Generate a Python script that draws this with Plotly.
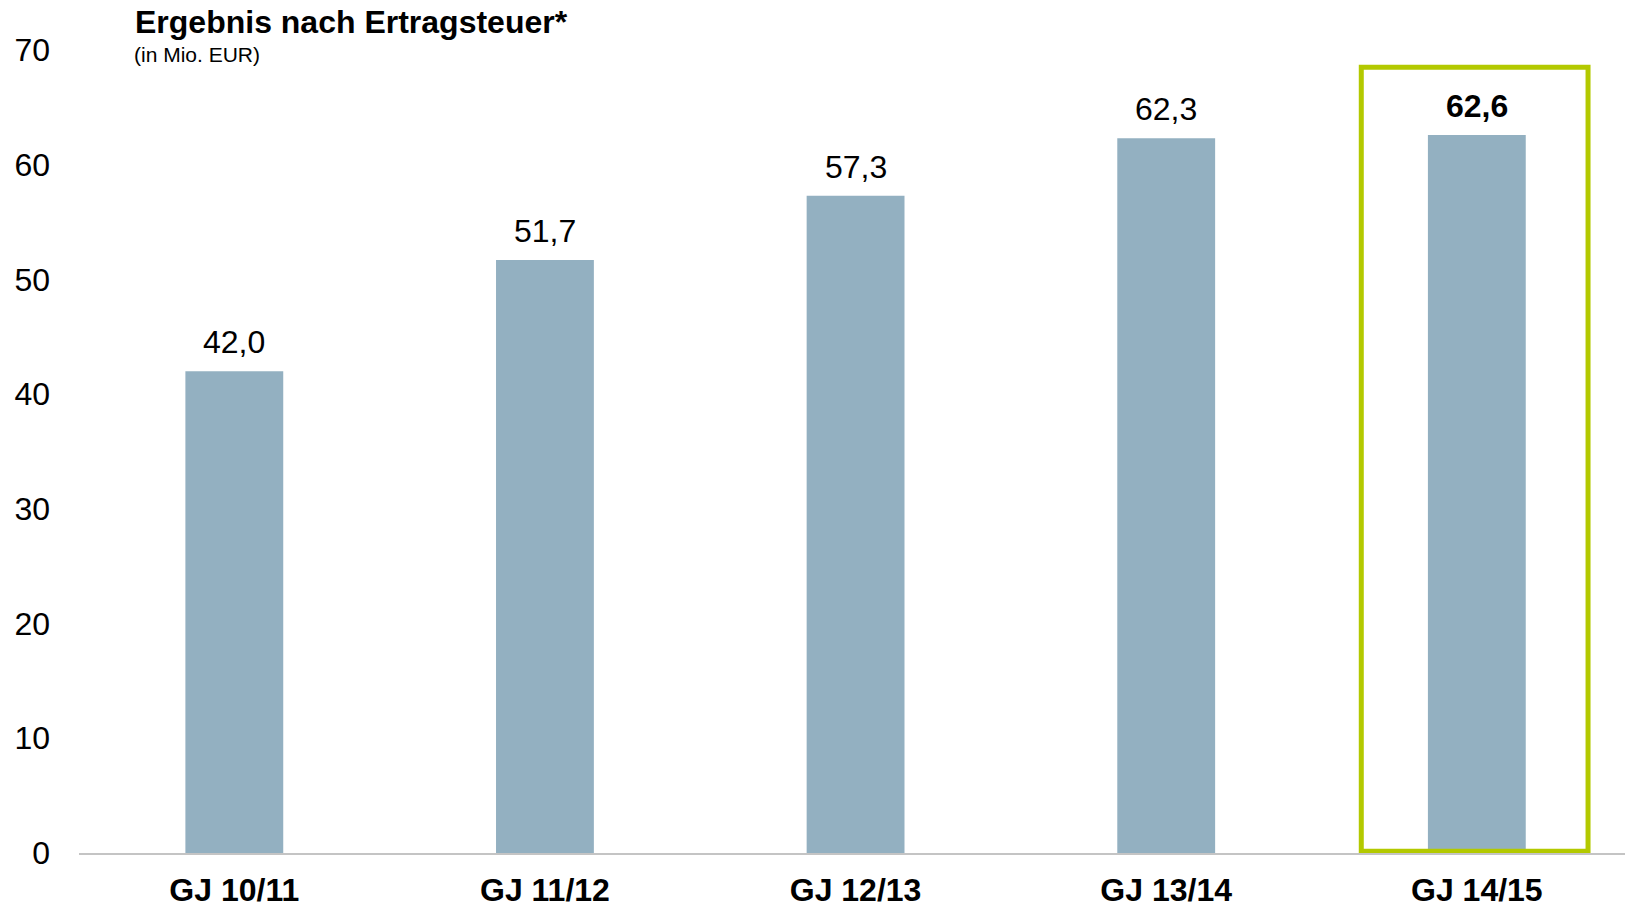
import plotly.graph_objects as go

categories = ["GJ 10/11", "GJ 11/12", "GJ 12/13", "GJ 13/14", "GJ 14/15"]
values = [42.0, 51.7, 57.3, 62.3, 62.6]
y_ticks = [0, 10, 20, 30, 40, 50, 60, 70]
highlight_index = 4

FONT = "Liberation Sans, Arial, sans-serif"
BAR_COLOR = "#93B0C1"
GREEN = "#B3C900"

x_idx = list(range(len(categories)))

fig = go.Figure()
fig.add_trace(go.Bar(
    x=x_idx, y=values, width=0.315,
    marker=dict(color=BAR_COLOR, line=dict(width=0)),
    hoverinfo="skip",
))

# value labels
for i, v in enumerate(values):
    txt = f"{v:.1f}".replace(".", ",")
    if i == highlight_index:
        txt = f"<b>{txt}</b>"
    fig.add_annotation(
        x=i, y=v, xref="x", yref="y", text=txt, showarrow=False,
        yanchor="middle", yshift=29,
        font=dict(family=FONT, size=32, color="#000000"),
    )

# highlight box
fig.add_shape(
    type="rect", xref="x", yref="y",
    x0=highlight_index - 0.372, x1=highlight_index + 0.358,
    y0=0.15, y1=68.5,
    line=dict(color=GREEN, width=5), fillcolor="rgba(0,0,0,0)",
    layer="above",
)

# title and subtitle
fig.add_annotation(
    x=(133 - 79) / 1546, y=(853 - 22) / 803, xref="paper", yref="paper",
    text="<b>Ergebnis nach Ertragsteuer*</b>", showarrow=False,
    xanchor="left", yanchor="middle",
    font=dict(family=FONT, size=32, color="#000000"),
)
fig.add_annotation(
    x=(132 - 79) / 1546, y=(853 - 54) / 803, xref="paper", yref="paper",
    text="(in Mio. EUR)", showarrow=False,
    xanchor="left", yanchor="middle",
    font=dict(family=FONT, size=21, color="#000000"),
)

fig.update_layout(
    width=1625, height=907,
    margin=dict(l=79, r=0, t=50, b=54, pad=0, autoexpand=False),
    plot_bgcolor="white", paper_bgcolor="white",
    showlegend=False,
    xaxis=dict(
        range=[-0.5, 4.477], tickmode="array", tickvals=x_idx,
        ticktext=[f"<b>{c}</b>" for c in categories],
        showgrid=False, zeroline=False, automargin=False,
        showline=True, linecolor="#C4C4C4", linewidth=2,
        ticks="", ticklabelstandoff=8,
        tickfont=dict(family=FONT, size=32, color="#000000"),
    ),
    yaxis=dict(
        range=[0, 70], tickmode="array", tickvals=y_ticks,
        showgrid=False, zeroline=False, showline=False, automargin=False,
        ticks="", ticklabelstandoff=28,
        tickfont=dict(family=FONT, size=32, color="#000000"),
    ),
)

fig.write_html(
    "out.html",
    config={"displayModeBar": False},
    post_script="document.body.style.margin='0';document.body.style.overflow='hidden';",
)
